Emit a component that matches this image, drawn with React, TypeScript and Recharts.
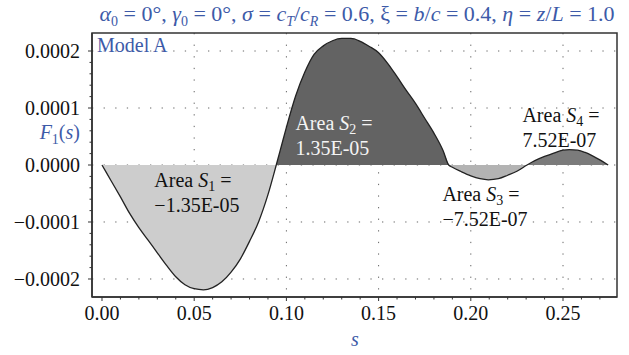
import React from 'react';
import {
  ComposedChart,
  Area,
  Line,
  XAxis,
  YAxis,
  CartesianGrid,
  ReferenceArea,
  ReferenceDot,
} from 'recharts';

// ---- data ----
const sValues = [
  0, 0.005, 0.01, 0.015, 0.02, 0.025, 0.03, 0.035, 0.04, 0.045, 0.05, 0.055, 0.06, 0.065,
  0.07, 0.075, 0.08, 0.085, 0.09, 0.0945,
  0.0975, 0.1, 0.105, 0.11, 0.115, 0.12, 0.125, 0.13, 0.135, 0.14, 0.145, 0.15, 0.155,
  0.16, 0.165, 0.17, 0.175, 0.18, 0.185, 0.188,
  0.19, 0.195, 0.2, 0.205, 0.2095, 0.215, 0.22, 0.225, 0.2305,
  0.235, 0.24, 0.245, 0.25, 0.2535, 0.258, 0.262, 0.266, 0.27, 0.2745,
];
const fValues = [
  0, -28e-6, -56e-6, -85e-6, -110e-6, -132e-6, -154e-6, -176e-6, -196e-6, -210e-6, -217e-6,
  -219e-6, -215e-6, -205e-6, -188e-6, -165e-6, -134e-6, -99e-6, -52e-6, 0,
  36e-6, 66e-6, 121e-6, 163e-6, 194e-6, 209e-6, 218e-6, 222e-6, 222e-6, 217e-6, 208e-6,
  197e-6, 178e-6, 155e-6, 131e-6, 108e-6, 82e-6, 56e-6, 25e-6, 0,
  -4e-6, -12e-6, -19e-6, -24e-6, -26e-6, -24e-6, -18e-6, -11e-6, 0,
  8e-6, 15e-6, 21e-6, 26e-6, 27e-6, 26e-6, 22e-6, 16e-6, 9e-6, 0,
];
const zeroCrossings = [0, 0.0945, 0.188, 0.2305, 0.2745];
const areaColors = ['#cdcdcd', '#636363', '#b3b3b3', '#7b7b7b'];

const xMajorTicks = [0, 0.05, 0.1, 0.15, 0.2, 0.25];
const yMajorTicks = [-0.0002, -0.0001, 0, 0.0001, 0.0002];
const xDomain = [-0.00542, 0.27928];
const yDomain = [-0.0002316, 0.0002316];

const areaLabels = [
  { s: 0.0284, f: -0.0000386, index: '1', value: '\u22121.35E-05', color: '#111' },
  { s: 0.1049, f: 0.0000614, index: '2', value: '1.35E-05', color: '#f4f4f4' },
  { s: 0.1846, f: -0.0000631, index: '3', value: '\u22127.52E-07', color: '#111' },
  { s: 0.228, f: 0.0000755, index: '4', value: '7.52E-07', color: '#111' },
];

// ---- derived ----
const xAllTicks: number[] = [];
for (let i = 0; i <= 27; i++) xAllTicks.push(i / 100);
const yAllTicks: number[] = [];
for (let i = -10; i <= 10; i++) yAllTicks.push(i * 0.00002);

const isMajor = (v: number, majors: number[]) => majors.some((m) => Math.abs(m - v) < 1e-9);

const data = sValues.map((s, i) => {
  const row: any = { s, f: fValues[i] };
  for (let r = 0; r < 4; r++) {
    const inside = s >= zeroCrossings[r] - 1e-9 && s <= zeroCrossings[r + 1] + 1e-9;
    row['a' + r] = inside ? fValues[i] : null;
  }
  return row;
});

const FONT = '"Liberation Serif", "Times New Roman", serif';
const BLUE = '#3d5aa8';
const AXIS = '#333';
const FS = 20;
const SUB = 14;

const XTick = (props: any) => {
  const { x, y, payload } = props;
  const v = payload.value;
  const major = isMajor(v, xMajorTicks);
  return (
    <g>
      <line x1={x} y1={y} x2={x} y2={y + (major ? 4 : 2.5)} stroke={AXIS} strokeWidth={1} />
      {major && (
        <text x={x} y={y + 23} textAnchor="middle" fontFamily={FONT} fontSize={FS} fill="#111">
          {v.toFixed(2)}
        </text>
      )}
    </g>
  );
};

const YTick = (props: any) => {
  const { x, y, payload } = props;
  const v = payload.value;
  const major = isMajor(v, yMajorTicks);
  const label = (v < -1e-12 ? '\u2212' : '') + Math.abs(v).toFixed(4);
  return (
    <g>
      <line x1={x} y1={y} x2={x - (major ? 4 : 2.5)} y2={y} stroke={AXIS} strokeWidth={1} />
      {major && (
        <text x={x - 12} y={y} dy="0.34em" textAnchor="end" fontFamily={FONT} fontSize={FS} fill="#111">
          {label}
        </text>
      )}
    </g>
  );
};

const AreaLabel = (props: any) => {
  const { viewBox, index, value, color } = props;
  const x = viewBox.x;
  const y = viewBox.y;
  return (
    <g>
      <text x={x} y={y} fill={color} fontFamily={FONT} fontSize={FS}>
        {'Area '}
        <tspan fontStyle="italic">S</tspan>
        <tspan fontSize={SUB} dy={4}>{index}</tspan>
        <tspan dy={-4}>{' ='}</tspan>
      </text>
      <text x={x} y={y + 25} fill={color} fontFamily={FONT} fontSize={FS}>
        {value}
      </text>
    </g>
  );
};

export default function App() {
  return (
    <div style={{ position: 'absolute', left: 0, top: 0, width: 629, height: 355, background: '#fff' }}>
      <ComposedChart
        width={629}
        height={355}
        data={data}
        margin={{ top: 33, right: 12, left: 0, bottom: 0 }}
      >
        <XAxis
          dataKey="s"
          type="number"
          domain={xDomain}
          allowDataOverflow
          ticks={xAllTicks}
          interval={0}
          tickLine={false}
          tickSize={0}
          tickMargin={0}
          tick={<XTick />}
          height={58}
          axisLine={{ stroke: AXIS, strokeWidth: 1.5 }}
        />
        <YAxis
          type="number"
          domain={yDomain}
          allowDataOverflow
          ticks={yAllTicks}
          interval={0}
          tickLine={false}
          tickSize={0}
          tickMargin={0}
          tick={<YTick />}
          width={92}
          axisLine={{ stroke: AXIS, strokeWidth: 1.5 }}
        />
        {[0, 1, 2, 3].map((r) => (
          <Area
            key={r}
            dataKey={'a' + r}
            type="monotone"
            baseValue={0}
            fill={areaColors[r]}
            fillOpacity={1}
            stroke="none"
            connectNulls={false}
            dot={false}
            activeDot={false}
            isAnimationActive={false}
          />
        ))}
        <CartesianGrid
          stroke="#666"
          strokeDasharray="1.3 10.3"
          horizontalValues={yMajorTicks}
          verticalValues={[0.05, 0.1, 0.15, 0.2, 0.25]}
        />
        <Line
          dataKey="f"
          type="monotone"
          stroke="#222"
          strokeWidth={1.3}
          dot={false}
          activeDot={false}
          isAnimationActive={false}
        />
        <ReferenceArea
          x1={xDomain[0]}
          x2={xDomain[1]}
          y1={yDomain[0]}
          y2={yDomain[1]}
          fill="none"
          fillOpacity={0}
          stroke={AXIS}
          strokeWidth={1.5}
        />
        {areaLabels.map((l) => (
          <ReferenceDot
            key={l.index}
            x={l.s}
            y={l.f}
            r={0}
            fill="none"
            stroke="none"
            label={<AreaLabel index={l.index} value={l.value} color={l.color} />}
          />
        ))}
      </ComposedChart>
      <svg
        width={629}
        height={355}
        style={{ position: 'absolute', left: 0, top: 0, pointerEvents: 'none' }}
      >
        <text x={357} y={21} textAnchor="middle" fontFamily={FONT} fontSize={22} fill={BLUE}>
          <tspan fontStyle="italic">α</tspan>
          <tspan fontSize={SUB} dy={5}>0</tspan>
          <tspan dy={-5}>{' = 0°, '}</tspan>
          <tspan fontStyle="italic">γ</tspan>
          <tspan fontSize={SUB} dy={5}>0</tspan>
          <tspan dy={-5}>{' = 0°, '}</tspan>
          <tspan fontStyle="italic">σ</tspan>
          <tspan>{' = '}</tspan>
          <tspan fontStyle="italic">c</tspan>
          <tspan fontSize={SUB} fontStyle="italic" dy={5}>T</tspan>
          <tspan dy={-5}>/</tspan>
          <tspan fontStyle="italic">c</tspan>
          <tspan fontSize={SUB} fontStyle="italic" dy={5}>R</tspan>
          <tspan dy={-5}>{' = 0.6, ξ = '}</tspan>
          <tspan fontStyle="italic">b</tspan>
          <tspan>/</tspan>
          <tspan fontStyle="italic">c</tspan>
          <tspan>{' = 0.4, '}</tspan>
          <tspan fontStyle="italic">η</tspan>
          <tspan>{' = '}</tspan>
          <tspan fontStyle="italic">z</tspan>
          <tspan>/</tspan>
          <tspan fontStyle="italic">L</tspan>
          <tspan>{' = 1.0'}</tspan>
        </text>
        <text x={97} y={52} fontFamily={FONT} fontSize={FS} fill={BLUE}>
          Model A
        </text>
        <text x={80} y={139} textAnchor="end" fontFamily={FONT} fontSize={FS} fill={BLUE}>
          <tspan fontStyle="italic">F</tspan>
          <tspan fontSize={SUB} dy={5}>1</tspan>
          <tspan dy={-5}>(</tspan>
          <tspan fontStyle="italic">s</tspan>
          <tspan>)</tspan>
        </text>
        <text x={355} y={346} textAnchor="middle" fontFamily={FONT} fontSize={FS} fontStyle="italic" fill={BLUE}>
          s
        </text>
      </svg>
    </div>
  );
}
